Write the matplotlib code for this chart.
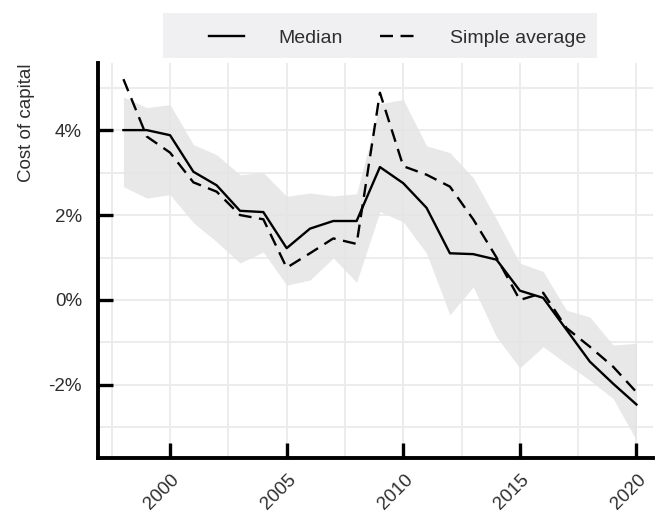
import numpy as np
import matplotlib
matplotlib.use("Agg")
import matplotlib.pyplot as plt
from matplotlib.patches import Rectangle
from matplotlib.ticker import FuncFormatter, MultipleLocator
import matplotlib.transforms as mtransforms

# === Data ===
years = list(range(1998, 2021))
median = [4.0, 4.0, 3.88, 3.02, 2.7, 2.1, 2.07, 1.22, 1.68, 1.86, 1.86, 3.13, 2.75, 2.17, 1.1, 1.08, 0.95,
          0.22, 0.05, -0.7, -1.45, -1.97, -2.46]
simple_avg = [5.2, 3.85, 3.47, 2.77, 2.55, 2.0, 1.9, 0.76, 1.1, 1.45, 1.32, 4.88, 3.15, 2.95, 2.67, 1.9, 1.0,
              0.0, 0.17, -0.66, -1.1, -1.57, -2.17]
band_upper = [4.78, 4.53, 4.6, 3.66, 3.42, 2.95, 3.0, 2.44, 2.52, 2.45, 2.5, 4.62, 4.72, 3.63, 3.47, 2.88, 1.9,
              0.87, 0.67, -0.24, -0.4, -1.06, -1.02]
band_lower = [2.67, 2.4, 2.48, 1.82, 1.37, 0.87, 1.13, 0.35, 0.47, 0.99, 0.42, 2.08, 1.84, 1.1, -0.35, 0.31, -0.87,
              -1.6, -1.1, -1.5, -1.89, -2.32, -3.3]
x_ticks = [2000, 2005, 2010, 2015, 2020]
y_ticks = [-2, 0, 2, 4]

plt.rcParams['font.family'] = ['Liberation Sans', 'DejaVu Sans']
TXT = '#2e2e2e'
FS = 13.5

fig = plt.figure(figsize=(6.57, 5.18), dpi=100)
W, H = 657, 518
ax = fig.add_axes([98 / W, (H - 458) / H, (653 - 98) / W, (458 - 63) / H])

ax.fill_between(years, band_lower, band_upper, color='#e4e4e4', alpha=0.85, lw=0, zorder=2)
ax.plot(years, median, color='black', lw=1.7, label='Median', zorder=3)
ax.plot(years, simple_avg, color='black', lw=1.7, ls=(0, (5.5, 3.2)), label='Simple average', zorder=3)

ax.set_xlim(1996.91, 2020.71)
ax.set_ylim(-3.72, 5.58)

ax.set_xticks(x_ticks)
ax.set_yticks(y_ticks)
ax.xaxis.set_minor_locator(MultipleLocator(2.5))
ax.yaxis.set_minor_locator(MultipleLocator(1))
ax.yaxis.set_major_formatter(FuncFormatter(lambda v, p: f"{v:.0f}%"))

ax.grid(True, which='both', color='#ebebeb', lw=1.3, zorder=0)
ax.set_axisbelow(True)

for s in ['top', 'right']:
    ax.spines[s].set_visible(False)
for s in ['left', 'bottom']:
    ax.spines[s].set_linewidth(2.8)
    ax.spines[s].set_capstyle('projecting')

ax.tick_params(which='major', direction='in', length=11, width=2.4, colors='black',
               labelcolor=TXT, labelsize=FS)
ax.tick_params(axis='y', pad=11.5)
ax.tick_params(axis='x', pad=9.5)
ax.tick_params(which='minor', length=0)

offset = mtransforms.ScaledTranslation(-8 / 100, 0, fig.dpi_scale_trans)
for lab in ax.get_xticklabels():
    lab.set_rotation(45)
    lab.set_ha('center')
    lab.set_transform(lab.get_transform() + offset)

ax.set_ylabel('Cost of capital', fontsize=FS, color=TXT, loc='top')
ax.yaxis.set_label_coords((35 - 98) / 555, 1.0)

# Legend with light background strip
fig.patches.append(Rectangle((163 / W, (H - 58) / H), 434 / W, 45 / H,
                             transform=fig.transFigure, facecolor='#f0eff1',
                             edgecolor='none', zorder=-1))
leg = ax.legend(loc='center', bbox_to_anchor=(397.5 / W, (H - 38) / H),
                bbox_transform=fig.transFigure, ncol=2, frameon=False,
                fontsize=14, handlelength=1.8, handletextpad=1.8,
                columnspacing=1.9, borderpad=0)
for t in leg.get_texts():
    t.set_color(TXT)

fig.savefig('out.png', dpi=100)
